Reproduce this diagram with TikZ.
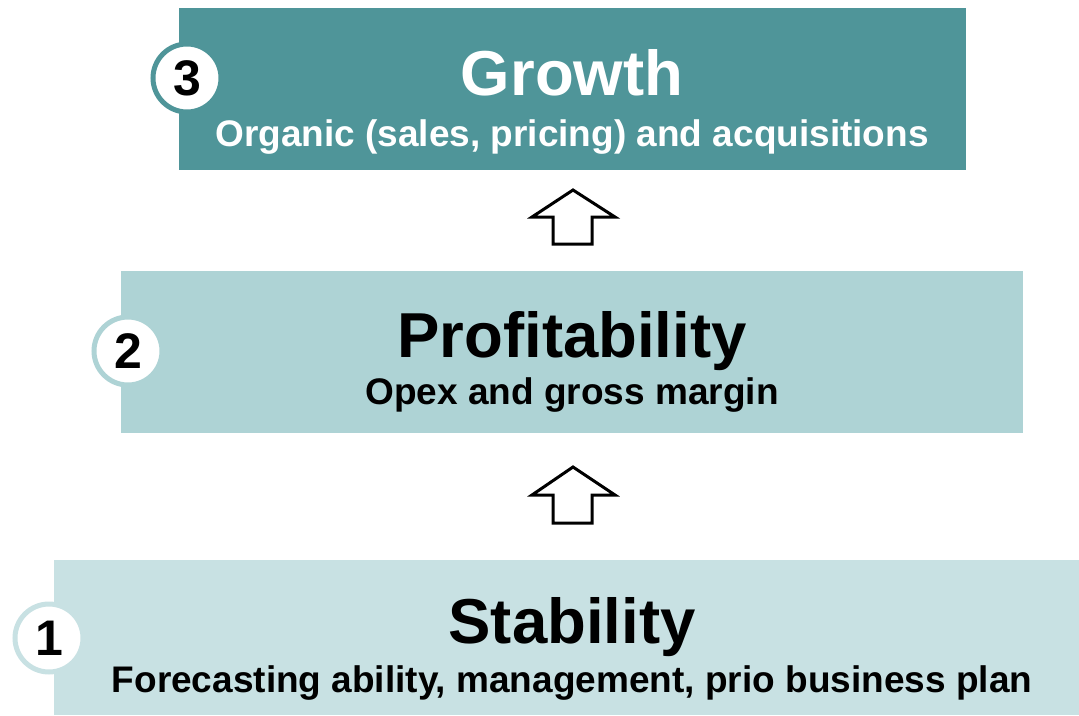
\documentclass[tikz,border=0pt]{standalone}
\usepackage{fontspec}
\setmainfont{Liberation Sans}
\definecolor{tealA}{HTML}{4F9599}
\definecolor{tealB}{HTML}{AED3D5}
\definecolor{tealC}{HTML}{C8E1E3}
\begin{document}
\begin{tikzpicture}[x=1pt,y=-1pt,
  box/.style={inner sep=0pt, outer sep=0pt},
  title/.style={anchor=base, inner sep=0pt, font=\fontsize{63.5}{70}\selectfont\bfseries},
  sub/.style={anchor=base, inner sep=0pt, font=\fontsize{37}{42}\selectfont\bfseries},
  num/.style={circle, fill=white, line width=5pt, minimum size=68pt, inner sep=0pt, font=\fontsize{50}{54}\selectfont\bfseries},
  blockarrow/.style={draw=black, line width=3pt, fill=white, line join=miter}
]
\useasboundingbox (0,0) rectangle (1079,715);
% boxes
\fill[tealA] (179,8) rectangle (966,170);
\fill[tealB] (121,271) rectangle (1023,433);
\fill[tealC] (54,560) rectangle (1079,715);
% texts
\node[title, text=white] (t3) at (572,95) {Growth};
\node[sub, text=white] (s3) at (572,146) {Organic (sales, pricing) and acquisitions};
\node[title] (t2) at (572,357) {Profitability};
\node[sub] (s2) at (572,404) {Opex and gross margin};
\node[title] (t1) at (572,643) {Stability};
\node[sub] (s1) at (572,692) {Forecasting ability, management, prio business plan};
% numbers
\node[num, draw=tealA] (n3) at (187,78) {3};
\node[num, draw=tealB] (n2) at (128,351) {2};
\node[num, draw=tealC] (n1) at (49,638) {1};
% block arrows
\draw[blockarrow] (573,190) -- (532,217) -- (553,217) -- (553,244) -- (592,244) -- (592,217) -- (615,217) -- cycle;
\draw[blockarrow] (573,467) -- (532,495) -- (553,495) -- (553,523) -- (592,523) -- (592,495) -- (615,495) -- cycle;
\end{tikzpicture}
\end{document}
